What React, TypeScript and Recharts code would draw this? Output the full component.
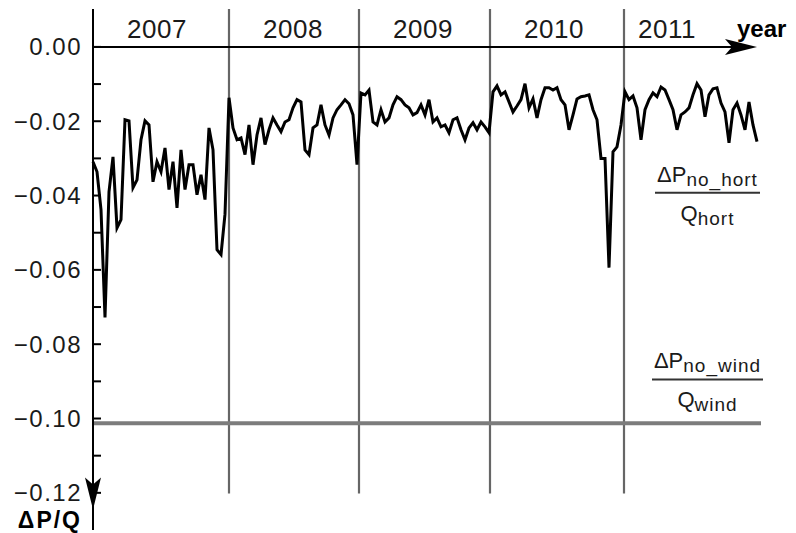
import React from "react";
import { LineChart, Line, XAxis, YAxis, ReferenceLine } from "recharts";

const FONT = '"Liberation Sans", Arial, sans-serif';

// calendar years shown along the top axis
const YEARS = ["2007", "2008", "2009", "2010", "2011"];
// sample index at which each year begins
const YEAR_STARTS = [0, 34, 66.5, 99.25, 132.75];
const LAST_INDEX = 166;

const Y_TICKS = [0, -0.01, -0.02, -0.03, -0.04, -0.05, -0.06, -0.07, -0.08, -0.09, -0.1, -0.11, -0.12];

// constant ratio for wind
const WIND_RATIO = -0.1013;

// ratio for horticulture, one sample per step
const HORT_RATIO = [
  // 2007
  -0.0309, -0.0336, -0.0438, -0.0728, -0.039, -0.0296, -0.0487, -0.0465, -0.0196, -0.0199,
  -0.0379, -0.0358, -0.025, -0.0199, -0.021, -0.0363, -0.0309, -0.0336, -0.0272, -0.0384,
  -0.0309, -0.0433, -0.0277, -0.0384, -0.0317, -0.0317, -0.0398, -0.0344, -0.0411, -0.0218,
  -0.0277, -0.0546, -0.0559, -0.045,
  // 2008
  -0.0137, -0.0218, -0.025, -0.0245, -0.029, -0.021, -0.0317, -0.0237, -0.0191, -0.0263,
  -0.0223, -0.0191, -0.021, -0.0228, -0.0202, -0.0196, -0.0164, -0.0142, -0.0148, -0.0277,
  -0.029, -0.0218, -0.021, -0.0156, -0.021, -0.0237, -0.0191, -0.0169, -0.0156, -0.0142,
  -0.0153, -0.0183, -0.0317,
  // 2009
  -0.0124, -0.0129, -0.0116, -0.0202, -0.021, -0.0169, -0.0202, -0.0191, -0.0156, -0.0134,
  -0.0142, -0.0156, -0.0164, -0.0183, -0.0177, -0.0156, -0.0183, -0.0142, -0.0202, -0.0191,
  -0.0215, -0.021, -0.0231, -0.0196, -0.0191, -0.0223, -0.025, -0.0218, -0.0204, -0.0223,
  -0.0202, -0.0215, -0.0231,
  // 2010
  -0.0121, -0.0105, -0.0129, -0.0121, -0.0148, -0.0175, -0.0159, -0.0142, -0.0099, -0.0164,
  -0.014, -0.0191, -0.0142, -0.011, -0.011, -0.0116, -0.011, -0.0142, -0.0156, -0.0223,
  -0.0183, -0.014, -0.0134, -0.0132, -0.0129, -0.0169, -0.0196, -0.03, -0.03, -0.0594,
  -0.0282, -0.0269, -0.021,
  // 2011
  -0.0121, -0.0142, -0.0132, -0.0164, -0.025, -0.0169, -0.0142, -0.0124, -0.0134, -0.0108,
  -0.0116, -0.0142, -0.0169, -0.0223, -0.0183, -0.0175, -0.0164, -0.0129, -0.0099, -0.0116,
  -0.0188, -0.0129, -0.0113, -0.011, -0.0151, -0.0175, -0.0258, -0.0169, -0.0151, -0.0183,
  -0.0223, -0.0148, -0.021, -0.0255,
];

const data = HORT_RATIO.map((v, i) => ({ i, v }));

const fmtTick = (v: number) => (Math.abs(v) < 1e-9 ? "0.00" : "\u2212" + Math.abs(v).toFixed(2));

const YTick = (props: any) => {
  const { x, y, payload } = props;
  const v = payload.value as number;
  const labelled = Math.round(v * 100) % 2 === 0;
  return (
    <g>
      <line x1={x} x2={x + 8} y1={y} y2={y} stroke="#000" strokeWidth={2} />
      {labelled && (
        <text
          x={x - 11}
          y={y}
          dy="0.35em"
          textAnchor="end"
          fontFamily={FONT}
          fontSize={24}
          letterSpacing={1.5}
          fill="#1a1a1a"
        >
          {fmtTick(v)}
        </text>
      )}
    </g>
  );
};

// horizontal time axis at zero, with arrow and caption
const TimeAxis = (p: any) => {
  const { x1, y1, x2 } = p;
  return (
    <g>
      <line x1={x1} y1={y1} x2={x2 - 20} y2={y1} stroke="#000" strokeWidth={2} />
      <polygon points={`${x2},${y1} ${x2 - 32},${y1 - 8} ${x2 - 25},${y1} ${x2 - 32},${y1 + 8}`} fill="#000" />
      <text x={x2 - 20} y={y1 - 10} fontFamily={FONT} fontSize={24} fontWeight="bold" fill="#000">
        year
      </text>
    </g>
  );
};

// arrow head at the bottom of the value axis
const ValueArrow = (p: any) => {
  const { x2, y2 } = p;
  return (
    <g>
      <polygon points={`${x2},${y2} ${x2 - 8},${y2 - 32} ${x2},${y2 - 25} ${x2 + 8},${y2 - 32}`} fill="#000" />
      <text x={x2 - 11} y={y2 + 18} textAnchor="end" fontFamily={FONT} fontSize={23} fontWeight="bold" letterSpacing={2} fill="#000">
        ΔP/Q
      </text>
    </g>
  );
};

const yearLabel = (year: string, last: boolean) => (p: any) => (
  <text x={p.x1 + (last ? 14 : 34)} y={p.y1 - 9} fontFamily={FONT} fontSize={26} letterSpacing={0.5} fill="#1a1a1a">
    {year}
  </text>
);

const fraction = (sub: string, denSub: string) => (p: any) => {
  const { x1, y1, x2 } = p;
  const cx = (x1 + x2) / 2;
  return (
    <g fontFamily={FONT} fill="#1a1a1a">
      <text x={cx} y={y1 - 11} textAnchor="middle">
        <tspan fontSize={22}>ΔP</tspan>
        <tspan fontSize={19} letterSpacing={1} dy={4}>{sub}</tspan>
      </text>
      <line x1={x1} x2={x2} y1={y1} y2={y1} stroke="#333" strokeWidth={2} />
      <text x={cx} y={y1 + 28} textAnchor="middle">
        <tspan fontSize={22}>Q</tspan>
        <tspan fontSize={19} letterSpacing={1} dy={4}>{denSub}</tspan>
      </text>
    </g>
  );
};

export default function App() {
  return (
    <div style={{ position: "absolute", left: 0, top: 0, background: "#fff" }}>
      <LineChart width={796} height={533} data={data} margin={{ top: 9, right: 39, bottom: 3, left: 0 }}>
        <XAxis type="number" dataKey="i" domain={[0, LAST_INDEX]} hide />
        <YAxis
          type="number"
          domain={[-0.13, 0.0102]}
          ticks={Y_TICKS}
          interval={0}
          width={93}
          tickSize={0}
          tickMargin={0}
          tickLine={false}
          axisLine={{ stroke: "#000", strokeWidth: 2 }}
          tick={<YTick />}
        />

        {YEAR_STARTS.slice(1).map((s) => (
          <ReferenceLine
            key={`div-${s}`}
            segment={[{ x: s, y: 0.0102 }, { x: s, y: -0.1202 }]}
            stroke="#666"
            strokeWidth={2.2}
            ifOverflow="visible"
          />
        ))}
        {YEARS.map((year, k) => (
          <ReferenceLine
            key={year}
            segment={[{ x: YEAR_STARTS[k], y: 0 }, { x: YEAR_STARTS[k + 1] ?? LAST_INDEX, y: 0 }]}
            ifOverflow="visible"
            shape={yearLabel(year, k === YEARS.length - 1)}
          />
        ))}

        <ReferenceLine
          segment={[{ x: 0, y: WIND_RATIO }, { x: 167, y: WIND_RATIO }]}
          stroke="#7c7c7c"
          strokeWidth={4}
          ifOverflow="visible"
        />

        <ReferenceLine segment={[{ x: 0, y: 0 }, { x: LAST_INDEX, y: 0 }]} ifOverflow="visible" shape={TimeAxis} />
        <ReferenceLine segment={[{ x: 0, y: -0.1 }, { x: 0, y: -0.1245 }]} ifOverflow="visible" shape={ValueArrow} />

        <ReferenceLine
          segment={[{ x: 140.5, y: -0.03925 }, { x: 166.75, y: -0.03925 }]}
          ifOverflow="visible"
          shape={fraction("no_hort", "hort")}
        />
        <ReferenceLine
          segment={[{ x: 139.75, y: -0.0895 }, { x: 167.5, y: -0.0895 }]}
          ifOverflow="visible"
          shape={fraction("no_wind", "wind")}
        />

        <Line
          type="linear"
          dataKey="v"
          stroke="#000"
          strokeWidth={3}
          dot={false}
          isAnimationActive={false}
        />
      </LineChart>
    </div>
  );
}
